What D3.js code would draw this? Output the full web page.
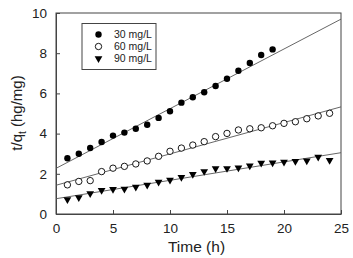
<!DOCTYPE html>
<html><head><meta charset="utf-8">
<script src="https://cdn.jsdelivr.net/npm/d3@7"></script>
<style>body{margin:0;background:#fff;}svg{display:block;font-family:Arial,"Liberation Sans",sans-serif;}</style>
</head><body><svg id="c" width="353" height="258"></svg>
<script>
const seriesNames = ["30 mg/L", "60 mg/L", "90 mg/L"];
const time30 = [1,2,3,4,5,6,7,8,9,10,11,12,13,14,15,16,17,18,19];
const val30 = [2.77,3.0,3.28,3.58,3.9,4.05,4.24,4.44,4.78,5.11,5.54,5.81,6.06,6.37,6.73,7.13,7.51,7.91,8.19];
const time60 = [1,2,3,4,5,6,7,8,9,10,11,12,13,14,15,16,17,18,19,20,21,22,23,24];
const val60 = [1.45,1.62,1.66,2.11,2.28,2.37,2.49,2.64,2.87,3.12,3.28,3.43,3.60,3.85,4.01,4.18,4.24,4.29,4.39,4.51,4.59,4.74,4.88,5.01];
const time90 = [1,2,3,4,5,6,7,8,9,10,11,12,13,14,15,16,17,18,19,20,21,22,23,24];
const val90 = [0.72,0.82,1.02,1.18,1.23,1.24,1.34,1.44,1.59,1.69,1.83,1.98,2.12,2.26,2.27,2.30,2.40,2.54,2.55,2.59,2.62,2.65,2.84,2.67];
const fitIntercept = [2.27, 1.43, 0.76];
const fitSlope = [0.297, 0.156, 0.0916];
const xTicks = [0,5,10,15,20,25];
const yTicks = [0,2,4,6,8,10];

const svg = d3.select("#c");
const L=56, R=341, T=13, B=214;
const x = d3.scaleLinear().domain([0,25]).range([L,R]);
const y = d3.scaleLinear().domain([0,10]).range([B,T]);
const g = svg.append("g");

g.append("rect").attr("x",L).attr("y",T).attr("width",R-L).attr("height",B-T)
 .attr("fill","none").attr("stroke","#444").attr("stroke-width",1);

const xAxis = d3.axisBottom(x).tickValues(xTicks).tickSizeInner(-4).tickSizeOuter(0).tickPadding(9);
const ya = d3.axisLeft(y).tickValues(yTicks).tickSizeInner(-4).tickSizeOuter(0).tickPadding(9);
const gx = g.append("g").attr("transform",`translate(0,${B})`).call(xAxis);
const gy = g.append("g").attr("transform",`translate(${L},0)`).call(ya);
[gx,gy].forEach(a=>{
  a.select(".domain").attr("stroke","#444");
  a.selectAll(".tick line").attr("stroke","#444");
  a.selectAll(".tick text").attr("font-size",13.5).attr("fill","#222").attr("font-family","Arial, 'Liberation Sans', sans-serif");
});

const tEnds = [0,25];
fitIntercept.forEach((b,i)=>{
  g.append("path").datum(tEnds)
   .attr("d", d3.line().x(d=>x(d)).y(d=>y(b+fitSlope[i]*d)))
   .attr("fill","none").attr("stroke","#555").attr("stroke-width",0.9);
});

function marker(sel, i){
  if(i===0) sel.append("circle").attr("r",3.2).attr("fill","#000");
  else if(i===1) sel.append("circle").attr("r",3.2).attr("fill","#fff").attr("stroke","#000").attr("stroke-width",0.9);
  else sel.append("path").attr("d",d3.symbol(d3.symbolTriangle, 26)()).attr("transform","rotate(180)").attr("fill","#000");
}
const data = [[time30,val30],[time60,val60],[time90,val90]];
data.forEach(([ts,vs],i)=>{
  ts.forEach((t,j)=>{
    const m = g.append("g").attr("transform",`translate(${x(t)},${y(vs[j])})`);
    marker(m,i);
  });
});

const lg = g.append("g");
lg.append("rect").attr("x",82).attr("y",23.5).attr("width",74).attr("height",46)
 .attr("fill","#fff").attr("stroke","#444").attr("stroke-width",1);
seriesNames.forEach((n,i)=>{
  const yy = 34.5 + i*12;
  const m = lg.append("g").attr("transform",`translate(98.5,${yy})`);
  marker(m,i);
  lg.append("text").attr("x",114).attr("y",yy).attr("dy","0.35em")
    .attr("font-size",10.5).attr("fill","#222").text(n);
});

g.append("text").attr("x",(L+R)/2-2).attr("y",252).attr("text-anchor","middle")
 .attr("font-size",15.5).attr("fill","#222").text("Time (h)");
const yl = g.append("text").attr("transform","translate(22,113) rotate(-90)")
 .attr("text-anchor","middle").attr("font-size",15).attr("fill","#222");
yl.append("tspan").text("t/q");
yl.append("tspan").attr("font-size",10).attr("dy",4).text("t");
yl.append("tspan").attr("dy",-4).text(" (hg/mg)");
</script></body></html>
